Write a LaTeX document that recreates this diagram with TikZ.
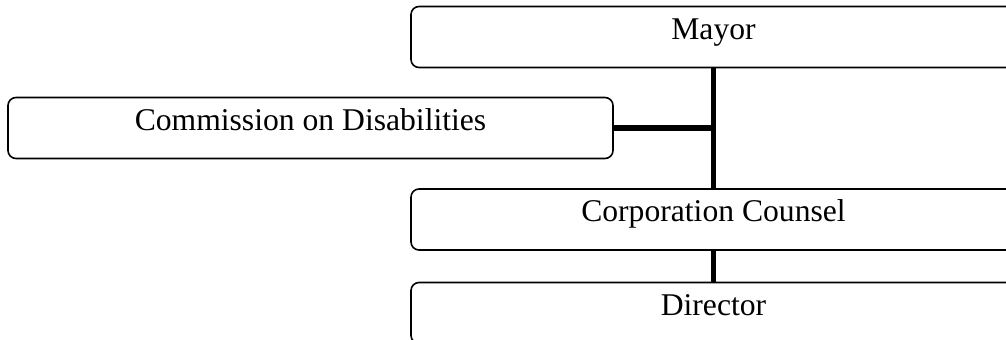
\documentclass[tikz,border=0pt]{standalone}
\usepackage{fontspec}
\setmainfont{Liberation Serif}

\begin{document}
\begin{tikzpicture}[
    unit/.style={draw, line width=0.9pt, rounded corners=0.16cm,
      minimum width=12.1cm, minimum height=1.22cm, outer sep=0pt,
      text height=0.7em, text depth=0.45em,
      font=\fontsize{18pt}{20pt}\selectfont},
    link/.style={line width=3.2pt}]
  \useasboundingbox (0,0) rectangle (20.12,6.78);

  % Boxes
  \node[unit] (mayor) at (14.27,6.04) {Mayor};
  \node[unit] (commission) at (6.21,4.22) {Commission on Disabilities};
  \node[unit] (counsel) at (14.27,2.39) {Corporation Counsel};
  \node[unit] (director) at (14.27,0.52) {Director};

  % Lines
  \draw [link] (mayor.south) -- (counsel.north);
  \draw [link] (commission.east) -- (commission.east -| mayor.south);
  \draw [link] (counsel.south) -- (director.north);
\end{tikzpicture}
\end{document}
